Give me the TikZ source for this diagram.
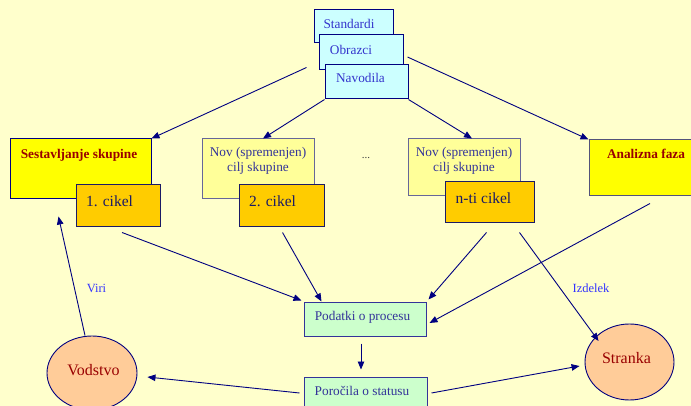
\documentclass[tikz,border=0pt]{standalone}
\usepackage{fontspec}
\setmainfont{Liberation Serif}
\usetikzlibrary{shapes.geometric,arrows.meta,calc}

\definecolor{bgyellow}{HTML}{FFFFCC}
\definecolor{linenavy}{HTML}{000080}
\definecolor{stdfill}{HTML}{CCFFFF}
\definecolor{stdtext}{HTML}{3333CC}
\definecolor{phasefill}{HTML}{FFFF00}
\definecolor{goalfill}{HTML}{FFFF99}
\definecolor{cyclefill}{HTML}{FFCC00}
\definecolor{datafill}{HTML}{CCFFCC}
\definecolor{peach}{HTML}{FFCC99}
\definecolor{darkred}{HTML}{990000}
\definecolor{navytext}{HTML}{333399}
\definecolor{cycletext}{HTML}{1A1A66}
\definecolor{graynavy}{HTML}{666699}
\definecolor{labelblue}{HTML}{3333FF}

\tikzset{
  box/.style={draw, rectangle, line width=1pt, inner sep=0pt},
  stdbox/.style={box, draw=linenavy, fill=stdfill},
  phasebox/.style={box, draw=graynavy!80!black, fill=phasefill},
  goalbox/.style={box, draw=graynavy, fill=goalfill},
  cyclebox/.style={box, draw=cycletext, fill=cyclefill},
  databox/.style={box, draw=navytext, fill=datafill},
  party/.style={ellipse, draw=linenavy, line width=0.9pt, fill=peach, inner sep=0pt},
  txt/.style={anchor=base, inner sep=0pt, font=\fontsize{13.3}{15}\selectfont},
  stdtxt/.style={txt, text=stdtext},
  phasetxt/.style={txt, text=darkred, font=\fontsize{13.3}{15}\selectfont\bfseries},
  goaltxt/.style={txt, text=navytext},
  cycletxt/.style={txt, text=cycletext, font=\fontsize{15.5}{18}\selectfont},
  partytxt/.style={txt, text=darkred, font=\fontsize{16}{19}\selectfont},
  flowtxt/.style={txt, text=labelblue, font=\fontsize{12.5}{15}\selectfont},
  flow/.style={draw=linenavy, line width=0.9pt, -{Triangle[length=8pt,width=6.5pt]}},
}

\begin{document}
\begin{tikzpicture}[x=1pt, y=-1pt]
  \useasboundingbox (0,0) rectangle (691,406);
  \fill[bgyellow] (0,0) rectangle (691,406);
  \clip (0,0) rectangle (691,406);

  % stacked reference documents
  \node[stdbox, minimum width=79pt, minimum height=33pt] (std) at (353.5,26.5) {};
  \node[stdtxt] (std-t) at (349,28.5) {Standardi};
  \node[stdbox, minimum width=84pt, minimum height=35pt] (obr) at (361,52.5) {};
  \node[stdtxt] (obr-t) at (351,55) {Obrazci};
  \node[stdbox, minimum width=83pt, minimum height=34pt] (nav) at (366.5,82) {};
  \node[stdtxt] (nav-t) at (360.5,83) {Navodila};

  % team setup with first cycle
  \node[phasebox, draw=linenavy, minimum width=141pt, minimum height=60pt] (sest) at (80.5,169) {};
  \node[phasetxt] (sest-t) at (79,158.5) {Sestavljanje skupine};
  \node[cyclebox, minimum width=84pt, minimum height=42pt] (c1) at (118,206) {};
  \node[cycletxt] (c1-t) at (109.5,207) {1. cikel};

  % second cycle
  \node[goalbox, minimum width=112pt, minimum height=60pt] (nov1) at (258,169) {};
  \node[goaltxt] (nov1-a) at (258,156.5) {Nov (spremenjen)};
  \node[goaltxt] (nov1-b) at (258,171.5) {cilj skupine};
  \node[cyclebox, minimum width=85pt, minimum height=42pt] (c2) at (281.5,206) {};
  \node[cycletxt] (c2-t) at (272.5,207) {2. cikel};

  \node[txt, text=black!75, font=\fontsize{11}{13}\selectfont] (dots) at (366,159) {...};

  % n-th cycle
  \node[goalbox, minimum width=112pt, minimum height=57pt] (nov2) at (464,167.5) {};
  \node[goaltxt] (nov2-a) at (464,156.5) {Nov (spremenjen)};
  \node[goaltxt] (nov2-b) at (464,171.5) {cilj skupine};
  \node[cyclebox, minimum width=89pt, minimum height=41pt] (cn) at (489.5,202.5) {};
  \node[cycletxt] (cn-t) at (483.5,204) {n-ti cikel};

  % analysis phase
  \node[phasebox, minimum width=114pt, minimum height=56pt] (ana) at (646,168) {};
  \node[phasetxt] (ana-t) at (646,158.5) {Analizna faza};

  % process data and status reports
  \node[databox, minimum width=122pt, minimum height=34pt] (pod) at (365,319) {};
  \node[goaltxt] (pod-t) at (362.5,320.5) {Podatki o procesu};
  \node[databox, minimum width=123pt, minimum height=34pt] (por) at (365.5,394) {};
  \node[goaltxt] (por-t) at (362,395.5) {Poročila o statusu};

  % stakeholders
  \node[party, minimum width=90pt, minimum height=74pt] (vod) at (92,373) {};
  \node[partytxt] (vod-t) at (93.5,375.3) {Vodstvo};
  \node[party, minimum width=89pt, minimum height=76pt] (str) at (629.5,362) {};
  \node[partytxt] (str-t) at (626.5,363.3) {Stranka};

  % flows from the reference documents
  \draw[flow] ($(obr.south west)+(-12,-3)$) -- (sest.north east);
  \draw[flow] (nav.south west) -- ($(nov1.north)+(5,0)$);
  \draw[flow] (nav.south east) -- ($(nov2.north)+(8,0)$);
  \draw[flow] ($(obr.east)+(4,4.5)$) -- (ana.north west);

  % flows into the process data
  \draw[flow] ($(c1.south)+(4,5)$) -- ($(pod.north west)+(-2,-1)$);
  \draw[flow] ($(c2.south)+(1,5)$) -- ($(pod.north west)+(18,0)$);
  \draw[flow] ($(cn.south)+(-3,9)$) -- ($(pod.north east)+(2,-2)$);
  \draw[flow] ($(ana.south)+(4,7)$) -- ($(pod.east)+(3,4)$);
  \draw[flow] ($(cn.south)+(30,9)$) -- ($(str.west)+(14,-21)$);

  % reporting
  \draw[flow] ($(pod.south)+(-4,7)$) -- ($(por.north)+(-4.5,-7)$);
  \draw[flow] ($(por.west)+(-4,-1)$) -- ($(vod.east)+(10,4)$);
  \draw[flow] ($(por.east)+(4,-1)$) -- ($(str.west)+(-5,4)$);
  \draw[flow] ($(vod.north)+(-7,0)$) -- ($(sest.south)+(-22,17)$);

  \node[flowtxt] (viri) at (96.5,293) {Viri};
  \node[flowtxt] (izdelek) at (591,293) {Izdelek};
\end{tikzpicture}
\end{document}
